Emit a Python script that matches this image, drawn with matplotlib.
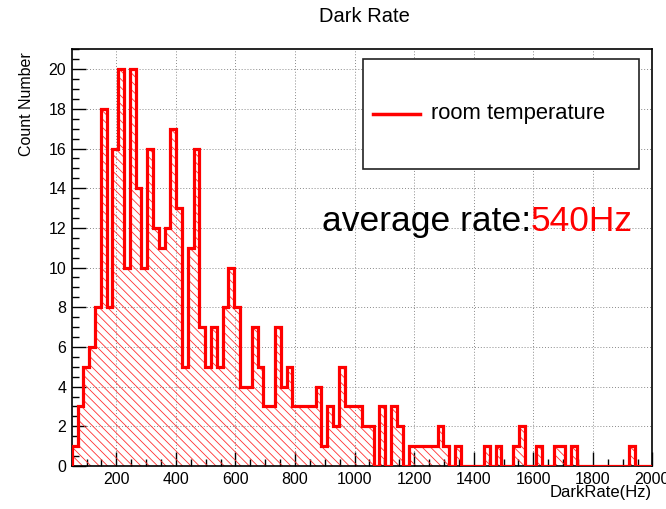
import matplotlib.pyplot as plt
import numpy as np
from matplotlib.ticker import MultipleLocator
from matplotlib.patches import Rectangle
from matplotlib.lines import Line2D

plt.rcParams['font.family'] = ['Liberation Sans', 'DejaVu Sans']
plt.rcParams['hatch.color'] = '#ff3030'
plt.rcParams['hatch.linewidth'] = 0.6

# histogram binning (TH1-style: 100 bins between 50 and 2000 Hz)
x_min, x_max, n_bins = 50, 2000, 100
counts = [1, 3, 5, 6, 8, 18, 8, 16, 20, 10,
          20, 14, 10, 16, 12, 11, 12, 17, 13, 5,
          11, 16, 7, 5, 7, 5, 8, 10, 8, 4,
          4, 7, 5, 3, 3, 7, 4, 5, 3, 3,
          3, 3, 4, 1, 3, 2, 5, 3, 3, 3,
          2, 2, 0, 3, 0, 3, 2, 0, 1, 1,
          1, 1, 1, 2, 1, 0, 1, 0, 0, 0,
          0, 1, 0, 1, 0, 0, 1, 2, 0, 0,
          1, 0, 0, 1, 1, 0, 1, 0, 0, 0,
          0, 0, 0, 0, 0, 0, 1, 0, 0, 0]
legend_label = 'room temperature'
avg_text = 'average rate:'
avg_value = '540Hz'

W, H = 666, 509


def px(x, y):
    # pixel position (from top-left) -> figure fraction
    return x / W, 1 - y / H


fig = plt.figure(figsize=(W / 100, H / 100), dpi=100)
left, bottom = px(71.7, 466)
right, top = px(652.4, 49.3)
ax = fig.add_axes([left, bottom, right - left, top - bottom])

edges = np.linspace(x_min, x_max, n_bins + 1)
ax.stairs(counts, edges, fill=True, facecolor='none', edgecolor='#ff3030',
          linewidth=0, hatch='\\\\\\\\', zorder=2)
ax.stairs(counts, edges, baseline=0, color='red', linewidth=2.3, zorder=3)

ax.set_xlim(x_min, x_max)
ax.set_ylim(0, 21)
ax.set_xticks(np.arange(200, 2001, 200))
ax.set_yticks(np.arange(0, 21, 2))
ax.xaxis.set_minor_locator(MultipleLocator(50))
ax.yaxis.set_minor_locator(MultipleLocator(0.5))
ax.tick_params(which='major', direction='in', length=10, width=1,
               labelsize=11.5, pad=4, top=False, right=False)
ax.tick_params(which='minor', direction='in', length=5, width=1,
               top=False, right=False)
ax.grid(True, which='major', color='#8a8a8a', linestyle=(0, (1, 2)),
        linewidth=0.7, zorder=0)
ax.set_axisbelow(True)
for s in ax.spines.values():
    s.set_linewidth(1.2)

fig.text(*px(364, 17), 'Dark Rate', ha='center', va='center', fontsize=14.5)
fig.text(*px(27, 52), 'Count Number', rotation=90, ha='center', va='top',
         fontsize=11.5)
fig.text(*px(652, 493), 'DarkRate(Hz)', ha='right', va='center', fontsize=12)

# legend box
bx0, by1 = px(362.7, 169.3)
bx1, by0 = px(639.3, 59.3)
fig.add_artist(Rectangle((bx0, by1), bx1 - bx0, by0 - by1,
                         transform=fig.transFigure, facecolor='white',
                         edgecolor='#222222', linewidth=1.2, zorder=5))
lx0, ly = px(372.7, 114)
lx1, _ = px(420, 114)
fig.add_artist(Line2D([lx0, lx1], [ly, ly], transform=fig.transFigure,
                      color='red', linewidth=2.5, zorder=6))
fig.text(*px(430.7, 114), legend_label, ha='left', va='center',
         fontsize=15.8, zorder=6)

t1 = fig.text(*px(321.7, 231), avg_text, ha='left', va='baseline',
              fontsize=25.5, zorder=6)
ax.annotate(avg_value, xy=(1, 0), xycoords=t1, ha='left', va='bottom',
            fontsize=25.5, color='red', zorder=6)

fig.savefig('out.png', dpi=100)
